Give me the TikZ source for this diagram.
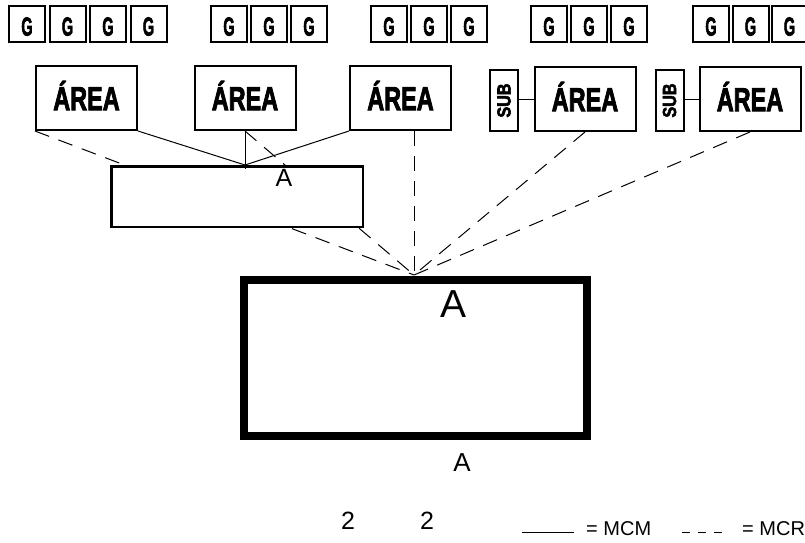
\documentclass[tikz,border=0pt]{standalone}
\usepackage{fontspec}
\setmainfont{Liberation Sans}
\newfontfamily\heavy{Liberation Sans}[BoldFont={* Bold}, BoldFeatures={FakeBold=3}]
\tikzset{
  gbox/.style={draw, line width=2pt, minimum width=36pt, minimum height=36pt, inner sep=0pt},
  areabox/.style={draw, fill=white, line width=2pt, minimum width=101pt, minimum height=64pt, inner sep=0pt},
  subbox/.style={draw, fill=white, line width=2pt, minimum width=28pt, minimum height=61pt, inner sep=0pt},
  gtxt/.style={anchor=base, inner sep=0pt, font=\heavy\fontsize{26pt}{26pt}\selectfont\bfseries},
  atxt/.style={anchor=base, inner sep=0pt, font=\heavy\fontsize{33pt}{33pt}\selectfont\bfseries},
  stxt/.style={rotate=90, inner sep=0pt, font=\heavy\fontsize{19pt}{19pt}\selectfont\bfseries},
  mcm/.style={line width=1pt},
  mcr/.style={line width=1pt, dash pattern=on 15pt off 10pt},
  plain/.style={inner sep=0pt}
}
\newcommand{\Gl}{\scalebox{0.56}[1]{G}}
\newcommand{\Ar}{\scalebox{0.71}[1]{ÁREA}}
\newcommand{\Sb}{\scalebox{0.85}[1]{SUB}}
\begin{document}
\begin{tikzpicture}[x=1pt,y=-1pt]
\useasboundingbox (0,0) rectangle (805,542);
% G boxes
\foreach \x/\n in {27/g1,67.5/g2,108/g3,148.5/g4,229/g5,269/g6,309/g7,389/g8,429/g9,469/g10,549/g11,589/g12,629/g13,711/g14,750.5/g15,789.5/g16}{
  \node[gbox] (\n) at (\x,24) {};
  \node[gtxt] (\n t) at (\x,35.5) {\Gl};
}
% AREA boxes
\node[areabox] (a1) at (86.5,98) {};
\node[areabox] (a2) at (245,98) {};
\node[areabox] (a3) at (400.5,98) {};
\node[areabox] (a4) at (585,99) {};
\node[areabox] (a5) at (750,99) {};
\foreach \n in {a1,a2,a3,a4,a5}{
  \node[atxt] (\n t) at ([yshift=-12pt]\n.center) {\Ar};
}
% SUB boxes
\node[subbox] (s1) at (504,100.5) {};
\node[subbox] (s2) at (669.5,100.5) {};
\node[stxt] (s1t) at (s1.center) {\Sb};
\node[stxt] (s2t) at (s2.center) {\Sb};
\draw[mcm] (s1.east |- a4.center) -- (a4.west);
\draw[mcm] (s2.east |- a5.center) -- (a5.west);
% focal point
\coordinate (f) at (414,275);
% dashed MCR lines
\draw[mcr] (a1.south west) -- (f);
\draw[mcr] (a2.south) -- (f);
\draw[mcr] (f |- a3.south) -- (f);
\draw[mcr] (a4.south) -- (f);
\draw[mcr] (a5.south) -- (f);
% small box
\node[draw, fill=white, line width=2.5pt, minimum width=251.5pt, minimum height=60.5pt, inner sep=0pt] (m) at (237,196.5) {};
\coordinate (j) at (a2.south |- m.north);
\draw[mcm] (a1.south east) -- (j);
\draw[mcm] (a3.south west) -- (j);
\draw[line width=0.8pt] (a2.south) -- ([yshift=-4pt]j);
\node[plain, font=\fontsize{25pt}{25pt}\selectfont] (ma) at (284,178) {A};
% big box
\node[draw, fill=white, line width=8pt, minimum width=343pt, minimum height=156pt, inner sep=0pt] (b) at (415.5,358) {};
\node[plain, font=\fontsize{39pt}{39pt}\selectfont] (ba) at (453,304) {A};
\node[plain, font=\fontsize{26pt}{26pt}\selectfont] (bl) at (462,462.5) {A};
% legend
\node[plain, font=\fontsize{25pt}{25pt}\selectfont] (n1) at (348,521) {2};
\node[plain, font=\fontsize{25pt}{25pt}\selectfont] (n2) at (427,521) {2};
\coordinate (l1) at (522,532);
\coordinate (l2) at (574,532);
\draw[line width=1pt] (l1) -- (l2);
\node[plain, anchor=base west, font=\fontsize{20pt}{20pt}\selectfont] (t1) at (586,535) {= MCM};
\coordinate (l3) at (682,532);
\coordinate (l4) at (723,532);
\draw[line width=1pt, dash pattern=on 8pt off 8pt] (l3) -- (l4);
\node[plain, anchor=base west, font=\fontsize{20pt}{20pt}\selectfont] (t2) at (742,535) {= MCR};
\end{tikzpicture}
\end{document}
